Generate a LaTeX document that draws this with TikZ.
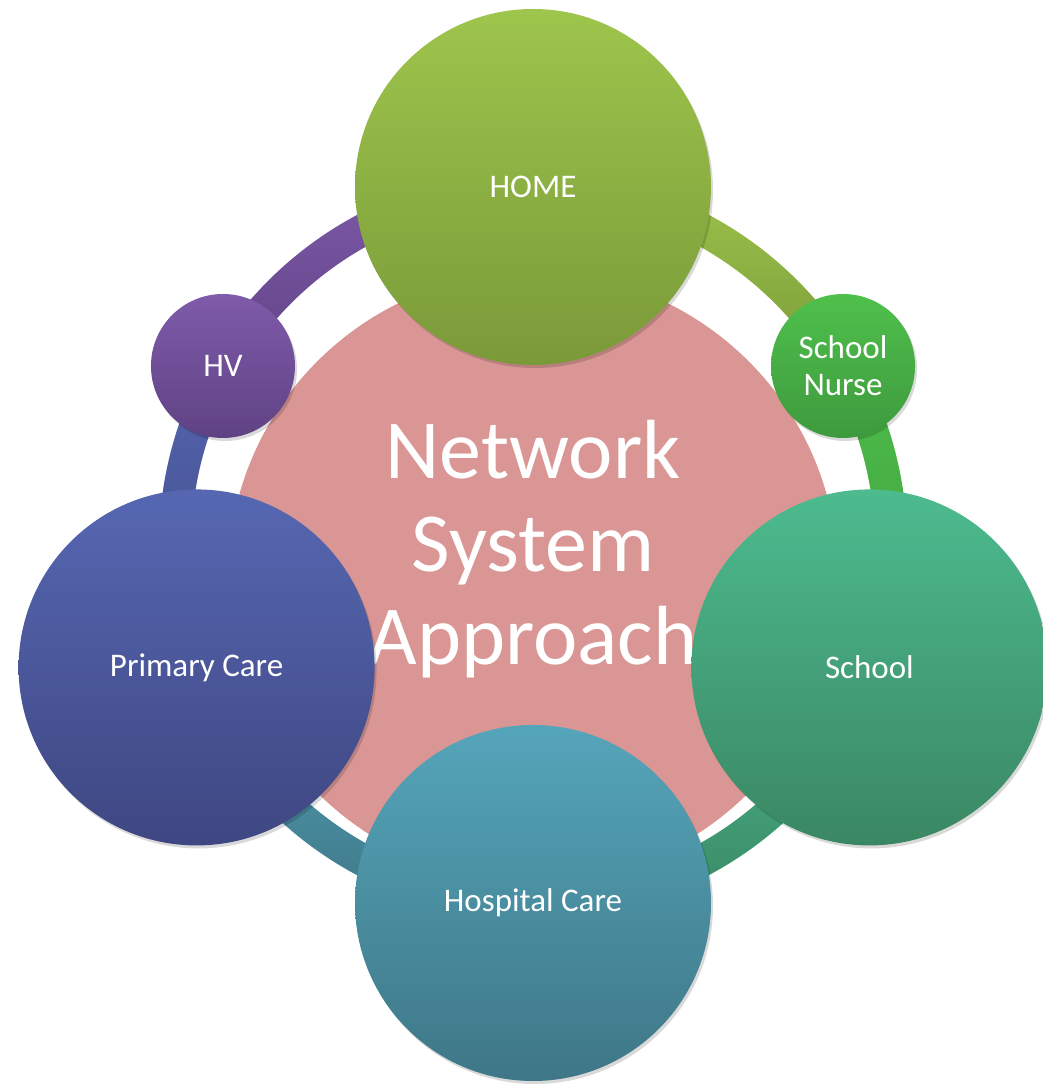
\documentclass[tikz,border=0pt]{standalone}
\usepackage{fontspec}
\setmainfont{Carlito}
\usetikzlibrary{shadows,fadings}
\definecolor{hubpink}{HTML}{D99694}
\definecolor{homeT}{HTML}{9EC54C}
\definecolor{homeB}{HTML}{7A9A39}
\definecolor{nurseT}{HTML}{4FC04C}
\definecolor{nurseB}{HTML}{3E9A3D}
\definecolor{schoolT}{HTML}{4DBB8F}
\definecolor{schoolB}{HTML}{3A8763}
\definecolor{hospT}{HTML}{55A5BA}
\definecolor{hospB}{HTML}{3E7787}
\definecolor{primT}{HTML}{5667B2}
\definecolor{primB}{HTML}{3F4782}
\definecolor{hvT}{HTML}{7F5BAB}
\definecolor{hvB}{HTML}{5F4283}
\pgfdeclarelayer{ring}
\pgfsetlayers{ring,main}

\begin{document}
\begin{tikzpicture}[x=1pt,y=1pt,
  soft/.style={drop shadow={shadow xshift=2pt,shadow yshift=-3pt,opacity=.15,fill=black}},
  bignode/.style={circle,minimum size=356pt,inner sep=0pt,text=white,
    font=\fontsize{33}{37}\selectfont,align=center,soft},
  smallnode/.style={bignode,minimum size=144pt},
  hubdisk/.style={circle,fill=hubpink,minimum size=610pt,inner sep=0pt},
  hubtext/.style={text=white,font=\fontsize{84}{93}\selectfont,align=center},
  ringseg/.style 2 args={line width=32pt,draw=#1,postaction={draw=#2,path fading=north}}]
\useasboundingbox (0,0) rectangle (1043,1084);
\coordinate (ringc) at (533,539);
\node[hubdisk] (hub) at (533,507) {};
\node[hubtext] (title) at (533,535) {Network\\System\\Approach};
\node[bignode,top color=homeT,bottom color=homeB] (home) at ([shift={(90:358)}]ringc) {HOME};
\node[smallnode,top color=nurseT,bottom color=nurseB] (nurse) at ([shift={(30:358)}]ringc) {School\\Nurse};
\node[bignode,top color=schoolT,bottom color=schoolB] (school) at ([shift={(-20:358)}]ringc) {School};
\node[bignode,top color=hospT,bottom color=hospB] (hosp) at ([shift={(-90:358)}]ringc) {Hospital Care};
\node[bignode,top color=primT,bottom color=primB] (prim) at ([shift={(200:358)}]ringc) {Primary Care};
\node[smallnode,top color=hvT,bottom color=hvB] (hv) at ([shift={(150:358)}]ringc) {HV};
\begin{pgfonlayer}{ring}
\draw[ringseg={homeT}{homeB}] (home.center) arc[start angle=90,end angle=30,radius=358];
\draw[ringseg={nurseT}{nurseB}] (nurse.center) arc[start angle=30,end angle=-20,radius=358];
\draw[ringseg={schoolT}{schoolB}] (school.center) arc[start angle=-20,end angle=-90,radius=358];
\draw[ringseg={hospT}{hospB}] (hosp.center) arc[start angle=-90,end angle=-160,radius=358];
\draw[ringseg={primT}{primB}] (prim.center) arc[start angle=200,end angle=150,radius=358];
\draw[ringseg={hvT}{hvB}] (hv.center) arc[start angle=150,end angle=90,radius=358];
\end{pgfonlayer}
\end{tikzpicture}
\end{document}
